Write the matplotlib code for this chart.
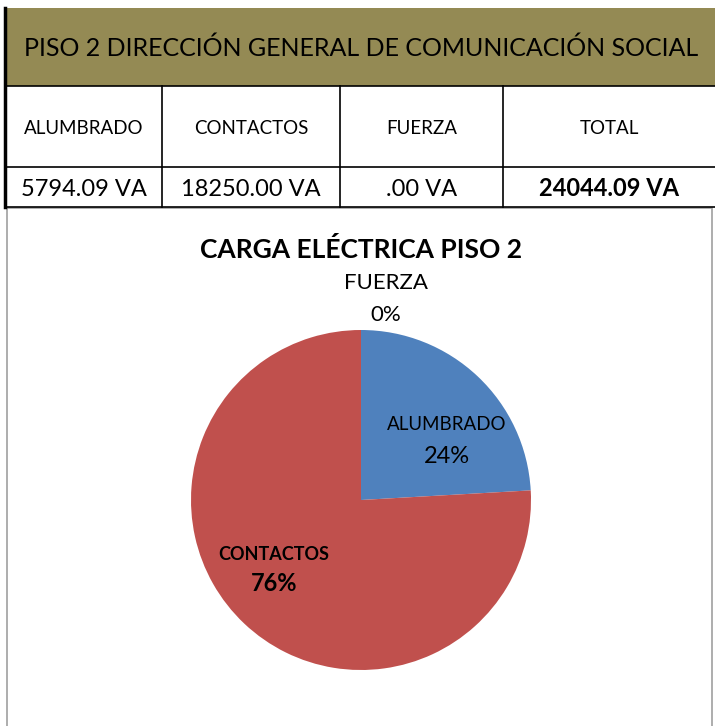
import matplotlib
matplotlib.use("Agg")
import matplotlib.pyplot as plt
from matplotlib.patches import Rectangle
from matplotlib.lines import Line2D

plt.rcParams['font.family'] = ['Lato', 'DejaVu Sans']

W, H = 715, 726

header_title = "PISO 2 DIRECCIÓN GENERAL DE COMUNICACIÓN SOCIAL"
columns = ["ALUMBRADO", "CONTACTOS", "FUERZA", "TOTAL"]
values_va = ["5794.09 VA", "18250.00 VA", ".00 VA", "24044.09 VA"]

chart_title = "CARGA ELÉCTRICA PISO 2"
categories = ["ALUMBRADO", "CONTACTOS", "FUERZA"]
loads = [5794.09, 18250.00, 0.00]
colors = ["#4F81BD", "#C0504D", "#9BBB59"]


def fx(x):
    return x / W


def fy(y):
    return 1 - y / H


fig = plt.figure(figsize=(W / 100, H / 100), dpi=100)
fig.patch.set_facecolor("white")

# olive title band
fig.add_artist(Rectangle((fx(5), fy(86)), fx(715) - fx(5), fy(8) - fy(86),
                         facecolor="#948A54", edgecolor="none"))
fig.text(fx(361), fy(48), header_title, ha="center", va="center", fontsize=18)

# table grid
col_x = [5, 162, 340, 503, 715]
for y in [86, 167, 207]:
    fig.add_artist(Line2D([fx(5), fx(715)], [fy(y), fy(y)], color="black", lw=1.2))
for x in col_x[:-1]:
    lw = 2.5 if x == 5 else 1.2
    fig.add_artist(Line2D([fx(x), fx(x)], [fy(8 if x == 5 else 86), fy(207)], color="black", lw=lw))

for i, (c, v) in enumerate(zip(columns, values_va)):
    cx = (col_x[i] + col_x[i + 1]) / 2
    fig.text(fx(cx), fy(128), c, ha="center", va="center", fontsize=13.5)
    fig.text(fx(cx), fy(189), v, ha="center", va="center", fontsize=17,
             fontweight="bold" if c == "TOTAL" else "normal")

# chart area border
fig.add_artist(Rectangle((fx(7), fy(730)), fx(712) - fx(7), fy(208) - fy(730),
                         facecolor="none", edgecolor="#A0A0A0", lw=1.2))

fig.text(fx(361), fy(249), chart_title, ha="center", va="center",
         fontsize=19, fontweight="bold")

# pie
ax = fig.add_axes([fx(191), fy(670), fx(531) - fx(191), fy(330) - fy(670)])
ax.pie(loads, colors=colors, startangle=90, counterclock=False,
       wedgeprops=dict(linewidth=0))
ax.set_xlim(-1, 1)
ax.set_ylim(-1, 1)
ax.axis("off")

total = sum(loads)
pct = [round(v / total * 100) for v in loads]

ax.text(0.147, 1.276, categories[2], ha="center", va="center", fontsize=16)
ax.text(0.147, 1.088, f"{pct[2]}%", ha="center", va="center", fontsize=16)
ax.text(0.506, 0.447, categories[0], ha="center", va="center", fontsize=13.5)
ax.text(0.506, 0.253, f"{pct[0]}%", ha="center", va="center", fontsize=17)
ax.text(-0.512, -0.318, categories[1], ha="center", va="center", fontsize=13, fontweight="bold")
ax.text(-0.512, -0.494, f"{pct[1]}%", ha="center", va="center", fontsize=17, fontweight="bold")

fig.savefig("out.png", dpi=100)
